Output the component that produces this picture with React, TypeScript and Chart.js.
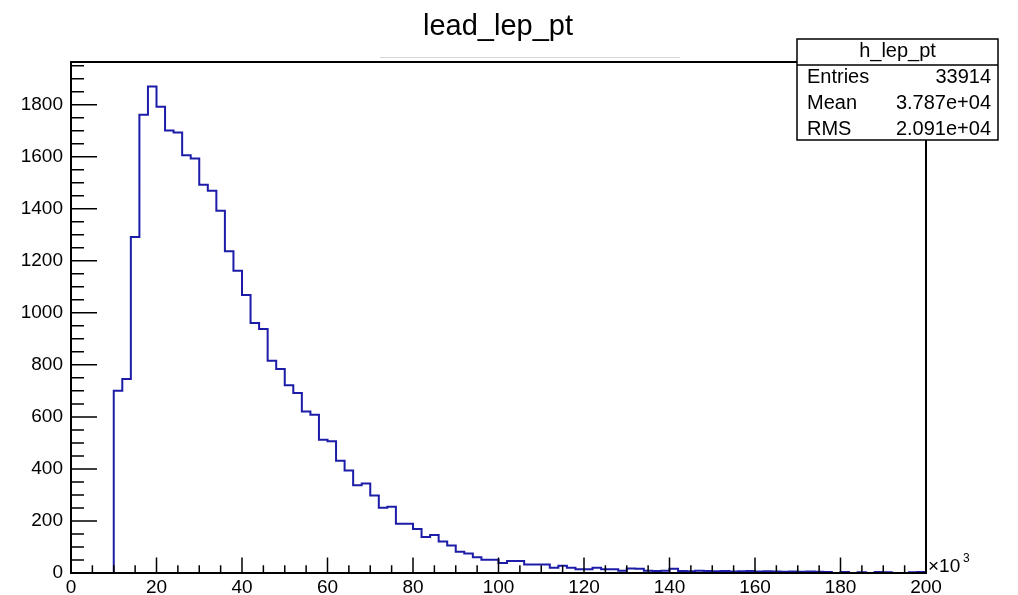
import React, { useEffect, useRef } from "react";
import { Chart, registerables } from "chart.js";

Chart.register(...registerables);

// ---- data ----
const histName = "h_lep_pt";
const histTitle = "lead_lep_pt";
const xMin = 0;
const xMax = 200;
const binWidth = 2;
// content of the 100 bins, 0..200 (x10^3), width 2
const binContents = [
  0, 0, 0, 0, 0, 700, 746, 1291, 1761, 1870,
  1792, 1701, 1693, 1606, 1593, 1492, 1469, 1392, 1237, 1162,
  1068, 961, 938, 816, 784, 722, 692, 621, 608, 512,
  506, 431, 394, 337, 344, 298, 251, 255, 189, 189,
  169, 138, 146, 121, 106, 82, 75, 61, 51, 51,
  38, 46, 46, 33, 33, 33, 20, 28, 20, 14,
  14, 20, 14, 14, 9, 17, 16, 9, 8, 9,
  16, 8, 7, 9, 8, 7, 8, 6, 7, 8,
  6, 7, 6, 5, 6, 5, 6, 5, 4, 0,
  4, 0, 3, 0, 4, 3, 0, 0, 3, 4,
];
const yMax = 1964;
const xTickValues = [0, 20, 40, 60, 80, 100, 120, 140, 160, 180, 200];
const yTickValues = [0, 200, 400, 600, 800, 1000, 1200, 1400, 1600, 1800];
const xMinorStep = 5;
const yMinorStep = 50;
const statsLabels = ["Entries", "Mean", "RMS"];
const statsValues = ["33914", "3.787e+04", "2.091e+04"];

const FONT = '"Liberation Sans", Arial, Helvetica, sans-serif';
const LINE_COLOR = "#1c1ca8";

export default function App() {
  const ref = useRef<HTMLCanvasElement | null>(null);

  useEffect(() => {
    document.body.style.margin = "0";
    const canvas = ref.current;
    if (!canvas) return;

    const points = binContents.map((v, i) => ({ x: xMin + i * binWidth, y: v }));
    points.push({ x: xMin + binContents.length * binWidth, y: binContents[binContents.length - 1] });

    const overlay = {
      id: "rootOverlay",
      afterDatasetsDraw(chart: any) {
        const { ctx, chartArea: a, scales } = chart;
        const xs = scales.x;
        const ys = scales.y;
        ctx.save();

        // ticks (inward, ROOT style)
        ctx.strokeStyle = "#000";
        ctx.lineWidth = 1.5;
        ctx.beginPath();
        for (let v = 0; v <= yMax; v += yMinorStep) {
          const y = ys.getPixelForValue(v);
          const len = yTickValues.includes(v) ? 26 : 13;
          ctx.moveTo(a.left, y);
          ctx.lineTo(a.left + len, y);
        }
        for (let v = xMin; v <= xMax; v += xMinorStep) {
          const x = xs.getPixelForValue(v);
          const len = xTickValues.includes(v) ? 15.5 : 7.7;
          ctx.moveTo(x, a.bottom);
          ctx.lineTo(x, a.bottom - len);
        }
        ctx.stroke();

        // frame
        ctx.lineWidth = 2;
        ctx.strokeRect(a.left, a.top, a.right - a.left, a.bottom - a.top);

        // faint title-pave line
        ctx.strokeStyle = "#d4d4d4";
        ctx.lineWidth = 1;
        ctx.beginPath();
        ctx.moveTo(380, 57.5);
        ctx.lineTo(680, 57.5);
        ctx.stroke();

        // title
        ctx.fillStyle = "#000";
        ctx.font = `29px ${FONT}`;
        ctx.textAlign = "center";
        ctx.textBaseline = "alphabetic";
        ctx.fillText(histTitle, 498, 35);

        // x10^3
        ctx.textAlign = "left";
        ctx.font = `19px ${FONT}`;
        ctx.fillText("\u00d710", a.right + 2, 572);
        ctx.font = `12px ${FONT}`;
        ctx.fillText("3", a.right + 37, 562);

        // stats box
        const bx1 = 797, by1 = 39, bx2 = 998, by2 = 140, hy = 65;
        ctx.fillStyle = "#fff";
        ctx.fillRect(bx1, by1, bx2 - bx1, by2 - by1);
        ctx.strokeStyle = "#000";
        ctx.lineWidth = 1.5;
        ctx.strokeRect(bx1, by1, bx2 - bx1, by2 - by1);
        ctx.beginPath();
        ctx.moveTo(bx1, hy);
        ctx.lineTo(bx2, hy);
        ctx.stroke();
        ctx.fillStyle = "#000";
        ctx.font = `20px ${FONT}`;
        ctx.textAlign = "center";
        ctx.fillText(histName, (bx1 + bx2) / 2, 57);
        const baselines = [83, 109, 135];
        statsLabels.forEach((lab, i) => {
          ctx.textAlign = "left";
          ctx.fillText(lab, bx1 + 10, baselines[i]);
          ctx.textAlign = "right";
          ctx.fillText(statsValues[i], bx2 - 7, baselines[i]);
        });

        ctx.restore();
      },
    };

    const tickFont = { family: FONT, size: 19 };
    const chart = new Chart(canvas, {
      type: "line",
      data: {
        datasets: [
          {
            data: points,
            stepped: true,
            borderColor: LINE_COLOR,
            borderWidth: 2,
            pointRadius: 0,
            fill: false,
            tension: 0,
          },
        ],
      },
      options: {
        animation: false,
        responsive: false,
        events: [],
        layout: { padding: { top: 62, right: 92, left: 0, bottom: 0 } },
        plugins: {
          legend: { display: false },
          tooltip: { enabled: false },
          title: { display: false },
        },
        scales: {
          x: {
            type: "linear",
            min: xMin,
            max: xMax,
            grid: { display: false, drawTicks: false },
            border: { display: false },
            ticks: {
              stepSize: 20,
              font: tickFont,
              color: "#000",
              padding: 3,
              maxRotation: 0,
              autoSkip: false,
              callback: (v: any) => String(v),
            },
            afterBuildTicks: (s: any) => {
              s.ticks = xTickValues.map((v) => ({ value: v }));
            },
            afterFit: (s: any) => {
              s.height = 22;
            },
          },
          y: {
            type: "linear",
            min: 0,
            max: yMax,
            grid: { display: false, drawTicks: false },
            border: { display: false },
            ticks: {
              stepSize: 200,
              font: tickFont,
              color: "#000",
              padding: 8,
              callback: (v: any) => String(v),
            },
            afterBuildTicks: (s: any) => {
              s.ticks = yTickValues.map((v) => ({ value: v }));
            },
            afterFit: (s: any) => {
              s.width = 71;
            },
          },
        },
      } as any,
      plugins: [overlay],
    });

    return () => chart.destroy();
  }, []);

  return (
    <div style={{ position: "fixed", left: 0, top: 0, width: 1018, height: 595, background: "#fff" }}>
      <canvas ref={ref} width={1018} height={595} style={{ display: "block" }} />
    </div>
  );
}
